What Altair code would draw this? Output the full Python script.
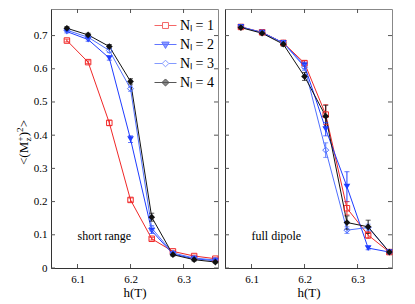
import altair as alt
import pandas as pd

FONT = "Liberation Serif"

h = [6.08, 6.12, 6.16, 6.20, 6.24, 6.28, 6.32, 6.36]
labels = ["Nₗ = 1", "Nₗ = 2", "Nₗ = 3", "Nₗ = 4"]
colors = ["#f02828", "#1f3cff", "#5070ff", "#111111"]
fills = ["white", "#1f3cff", "white", "#111111"]

# short range
sr = [
    [0.685, 0.620, 0.437, 0.205, 0.088, 0.050, 0.036, 0.028],
    [0.712, 0.688, 0.632, 0.388, 0.112, 0.042, 0.028, 0.022],
    [0.716, 0.695, 0.655, 0.540, 0.120, 0.045, 0.030, 0.024],
    [0.722, 0.702, 0.667, 0.562, 0.153, 0.040, 0.025, 0.018],
]
sr_err = [
    [0.004, 0.004, 0.008, 0.006, 0.004, 0.003, 0.003, 0.003],
    [0.004, 0.005, 0.006, 0.010, 0.008, 0.004, 0.003, 0.003],
    [0.004, 0.005, 0.006, 0.008, 0.008, 0.004, 0.003, 0.003],
    [0.005, 0.005, 0.006, 0.008, 0.012, 0.004, 0.004, 0.003],
]
# full dipole
fd = [
    [0.726, 0.710, 0.678, 0.617, 0.462, 0.180, 0.099, 0.048],
    [0.726, 0.709, 0.678, 0.610, 0.418, 0.245, 0.060, 0.048],
    [0.726, 0.709, 0.678, 0.605, 0.355, 0.114, 0.122, 0.048],
    [0.724, 0.707, 0.674, 0.577, 0.457, 0.137, 0.124, 0.048],
]
fd_err = [
    [0.004, 0.005, 0.006, 0.008, 0.030, 0.020, 0.010, 0.005],
    [0.004, 0.005, 0.006, 0.010, 0.020, 0.045, 0.005, 0.005],
    [0.004, 0.005, 0.006, 0.010, 0.022, 0.010, 0.010, 0.005],
    [0.004, 0.005, 0.006, 0.012, 0.033, 0.020, 0.020, 0.005],
]

y_ticks = [0, 0.1, 0.2, 0.3, 0.4, 0.5, 0.6, 0.7]
x_ticks = [6.1, 6.2, 6.3]

marker_shapes = ["square", "triangle-down", "diamond", "diamond"]
marker_filled = [False, True, False, True]
marker_sizes = [30, 45, 36, 45]
legend_paths = [
    "M-1,0H-0.27M0.27,0H1M-0.27,-0.27H0.27V0.27H-0.27Z",
    "M-1,0H1M-0.34,-0.22H0.34L0,0.36Z",
    "M-1,0H-0.3M0.3,0H1M-0.3,0L0,-0.3L0.3,0L0,0.3Z",
    "M-1,0H1M-0.32,0L0,-0.32L0.32,0L0,0.32Z",
]

W, H = 167, 259
XDOM = [6.05, 6.365]
YDOM = [0, 0.78]


def long_df(vals, errs):
    rows = []
    for lab, vs, es in zip(labels, vals, errs):
        for hh, v, e in zip(h, vs, es):
            rows.append({"h": hh, "v": v, "lo": v - e, "hi": v + e, "series": lab})
    return pd.DataFrame(rows)


def panel(vals, errs, note, first):
    df = long_df(vals, errs)
    xs = alt.Scale(domain=XDOM, nice=False, zero=False)
    ys = alt.Scale(domain=YDOM, nice=False, zero=False)
    col_scale = alt.Scale(domain=labels, range=colors)
    base = alt.Chart(df)
    xaxis = alt.Axis(values=x_ticks, format=".1f", title="h(T)", ticks=False,
                     labelPadding=5, domain=True, domainColor="#333",
                     titlePadding=2, grid=False, labelFont=FONT, labelFontSize=11,
                     labelColor="black", titleFont=FONT, titleFontSize=13,
                     titleColor="black", titleFontWeight="normal")
    yaxis = alt.Axis(values=y_ticks, format=".1~f", title=None, ticks=False,
                     labelPadding=4, domain=True, domainColor="#333",
                     labels=first, grid=False, labelOverlap=False,
                     labelFont=FONT, labelFontSize=11, labelColor="black")

    def X(f):
        return alt.X(f, scale=xs, axis=xaxis)

    def Y(f):
        return alt.Y(f, scale=ys, axis=yaxis)

    def C():
        return alt.Color("series:N", scale=col_scale, legend=None)

    errbars = base.mark_rule(strokeWidth=1).encode(
        x=X("h:Q"), y=Y("lo:Q"), y2="hi:Q", color=C())
    caps_lo = base.mark_tick(orient="horizontal", size=5, thickness=1).encode(
        x=X("h:Q"), y=Y("lo:Q"), color=C())
    caps_hi = base.mark_tick(orient="horizontal", size=5, thickness=1).encode(
        x=X("h:Q"), y=Y("hi:Q"), color=C())
    lines = base.mark_line(strokeWidth=1).encode(
        x=X("h:Q"), y=Y("v:Q"), color=C(), order="h:Q")
    layers = [lines, errbars, caps_lo, caps_hi]
    for lab, col, fil, shp, filled, sz in zip(labels, colors, fills, marker_shapes,
                                               marker_filled, marker_sizes):
        pts = base.transform_filter(alt.datum.series == lab).mark_point(
            shape=shp, filled=filled, color=col, size=sz, strokeWidth=1, opacity=1
        ).encode(x=X("h:Q"), y=Y("v:Q"))
        layers.append(pts)

    tick_y = pd.DataFrame({"t": y_ticks})
    tick_x = pd.DataFrame({"t": x_ticks})
    tc = "#555"
    layers += [
        alt.Chart(tick_y).mark_rule(color=tc).encode(
            y=Y("t:Q"), x=alt.value(0), x2=alt.value(4)),
        alt.Chart(tick_y).mark_rule(color=tc).encode(
            y=Y("t:Q"), x=alt.value(W - 4), x2=alt.value(W)),
        alt.Chart(tick_x).mark_rule(color=tc).encode(
            x=X("t:Q"), y=alt.value(0), y2=alt.value(4)),
        alt.Chart(tick_x).mark_rule(color=tc).encode(
            x=X("t:Q"), y=alt.value(H - 4), y2=alt.value(H)),
    ]

    note_df = pd.DataFrame({"h": [6.1], "v": [0.097], "txt": [note]})
    layers.append(
        alt.Chart(note_df).mark_text(align="left", baseline="middle", fontSize=12,
                                     font=FONT, color="black").encode(
            x=X("h:Q"), y=Y("v:Q"), text="txt:N")
    )

    if first:
        # legend carrier: real points drawn at size 0, so only the legend shows
        legend_layer = base.mark_point(filled=False, strokeWidth=1, size=0).encode(
            x=X("h:Q"), y=Y("v:Q"),
            stroke=alt.Stroke(
                "series:N", scale=alt.Scale(domain=labels, range=colors),
                legend=alt.Legend(
                    title=None, orient="none", legendX=103, legendY=5,
                    symbolSize=484, symbolStrokeWidth=1, labelFont=FONT,
                    labelFontSize=14, labelColor="black", labelOffset=3,
                    rowPadding=0, padding=0,
                ),
            ),
            fill=alt.Fill("series:N", scale=alt.Scale(domain=labels, range=fills)),
            shape=alt.Shape("series:N", scale=alt.Scale(domain=labels, range=legend_paths)),
        )
        layers.append(legend_layer)

        one = pd.DataFrame({"a": [0]})
        # invisible left boundary so that the plot sits 42px from the page margin
        layers.append(
            alt.Chart(one).mark_rule(color="white", strokeWidth=1).encode(
                x=alt.value(-41.5), y=alt.value(0), y2=alt.value(H))
        )
        pieces = [
            ("<(M", 0, 0, 13),
            ("z", 23.4, 3, 9),
            ("+", 23.4, -5, 9),
            (")", 28.8, 0, 13),
            ("2", 33.1, -5, 9),
            (">", 37.8, 0, 13),
        ]
        for txt, dx, dy, fs in pieces:
            layers.append(
                alt.Chart(one).mark_text(
                    text=txt, angle=270, align="left", baseline="alphabetic",
                    fontSize=fs, font=FONT, color="black", dx=dx, dy=dy,
                ).encode(x=alt.value(-23), y=alt.value(156))
            )

    return alt.layer(*layers).properties(width=W, height=H)


left = panel(sr, sr_err, "short range", True)
right = panel(fd, fd_err, "full dipole", False)

chart = alt.hconcat(left, right, spacing=3).resolve_scale(
    stroke="independent", fill="independent", shape="independent"
).resolve_legend(
    stroke="independent", fill="independent", shape="independent"
).properties(
    padding={"left": 0, "top": 0, "right": 0, "bottom": 0},
    background="white",
).configure_view(stroke="#888", strokeWidth=1).configure_axis(
    labelFont=FONT, labelFontSize=11, labelColor="black",
    titleFont=FONT, titleFontSize=13, titleColor="black", titleFontWeight="normal",
)

chart.save("out.html", embed_options={"renderer": "svg", "actions": False})
